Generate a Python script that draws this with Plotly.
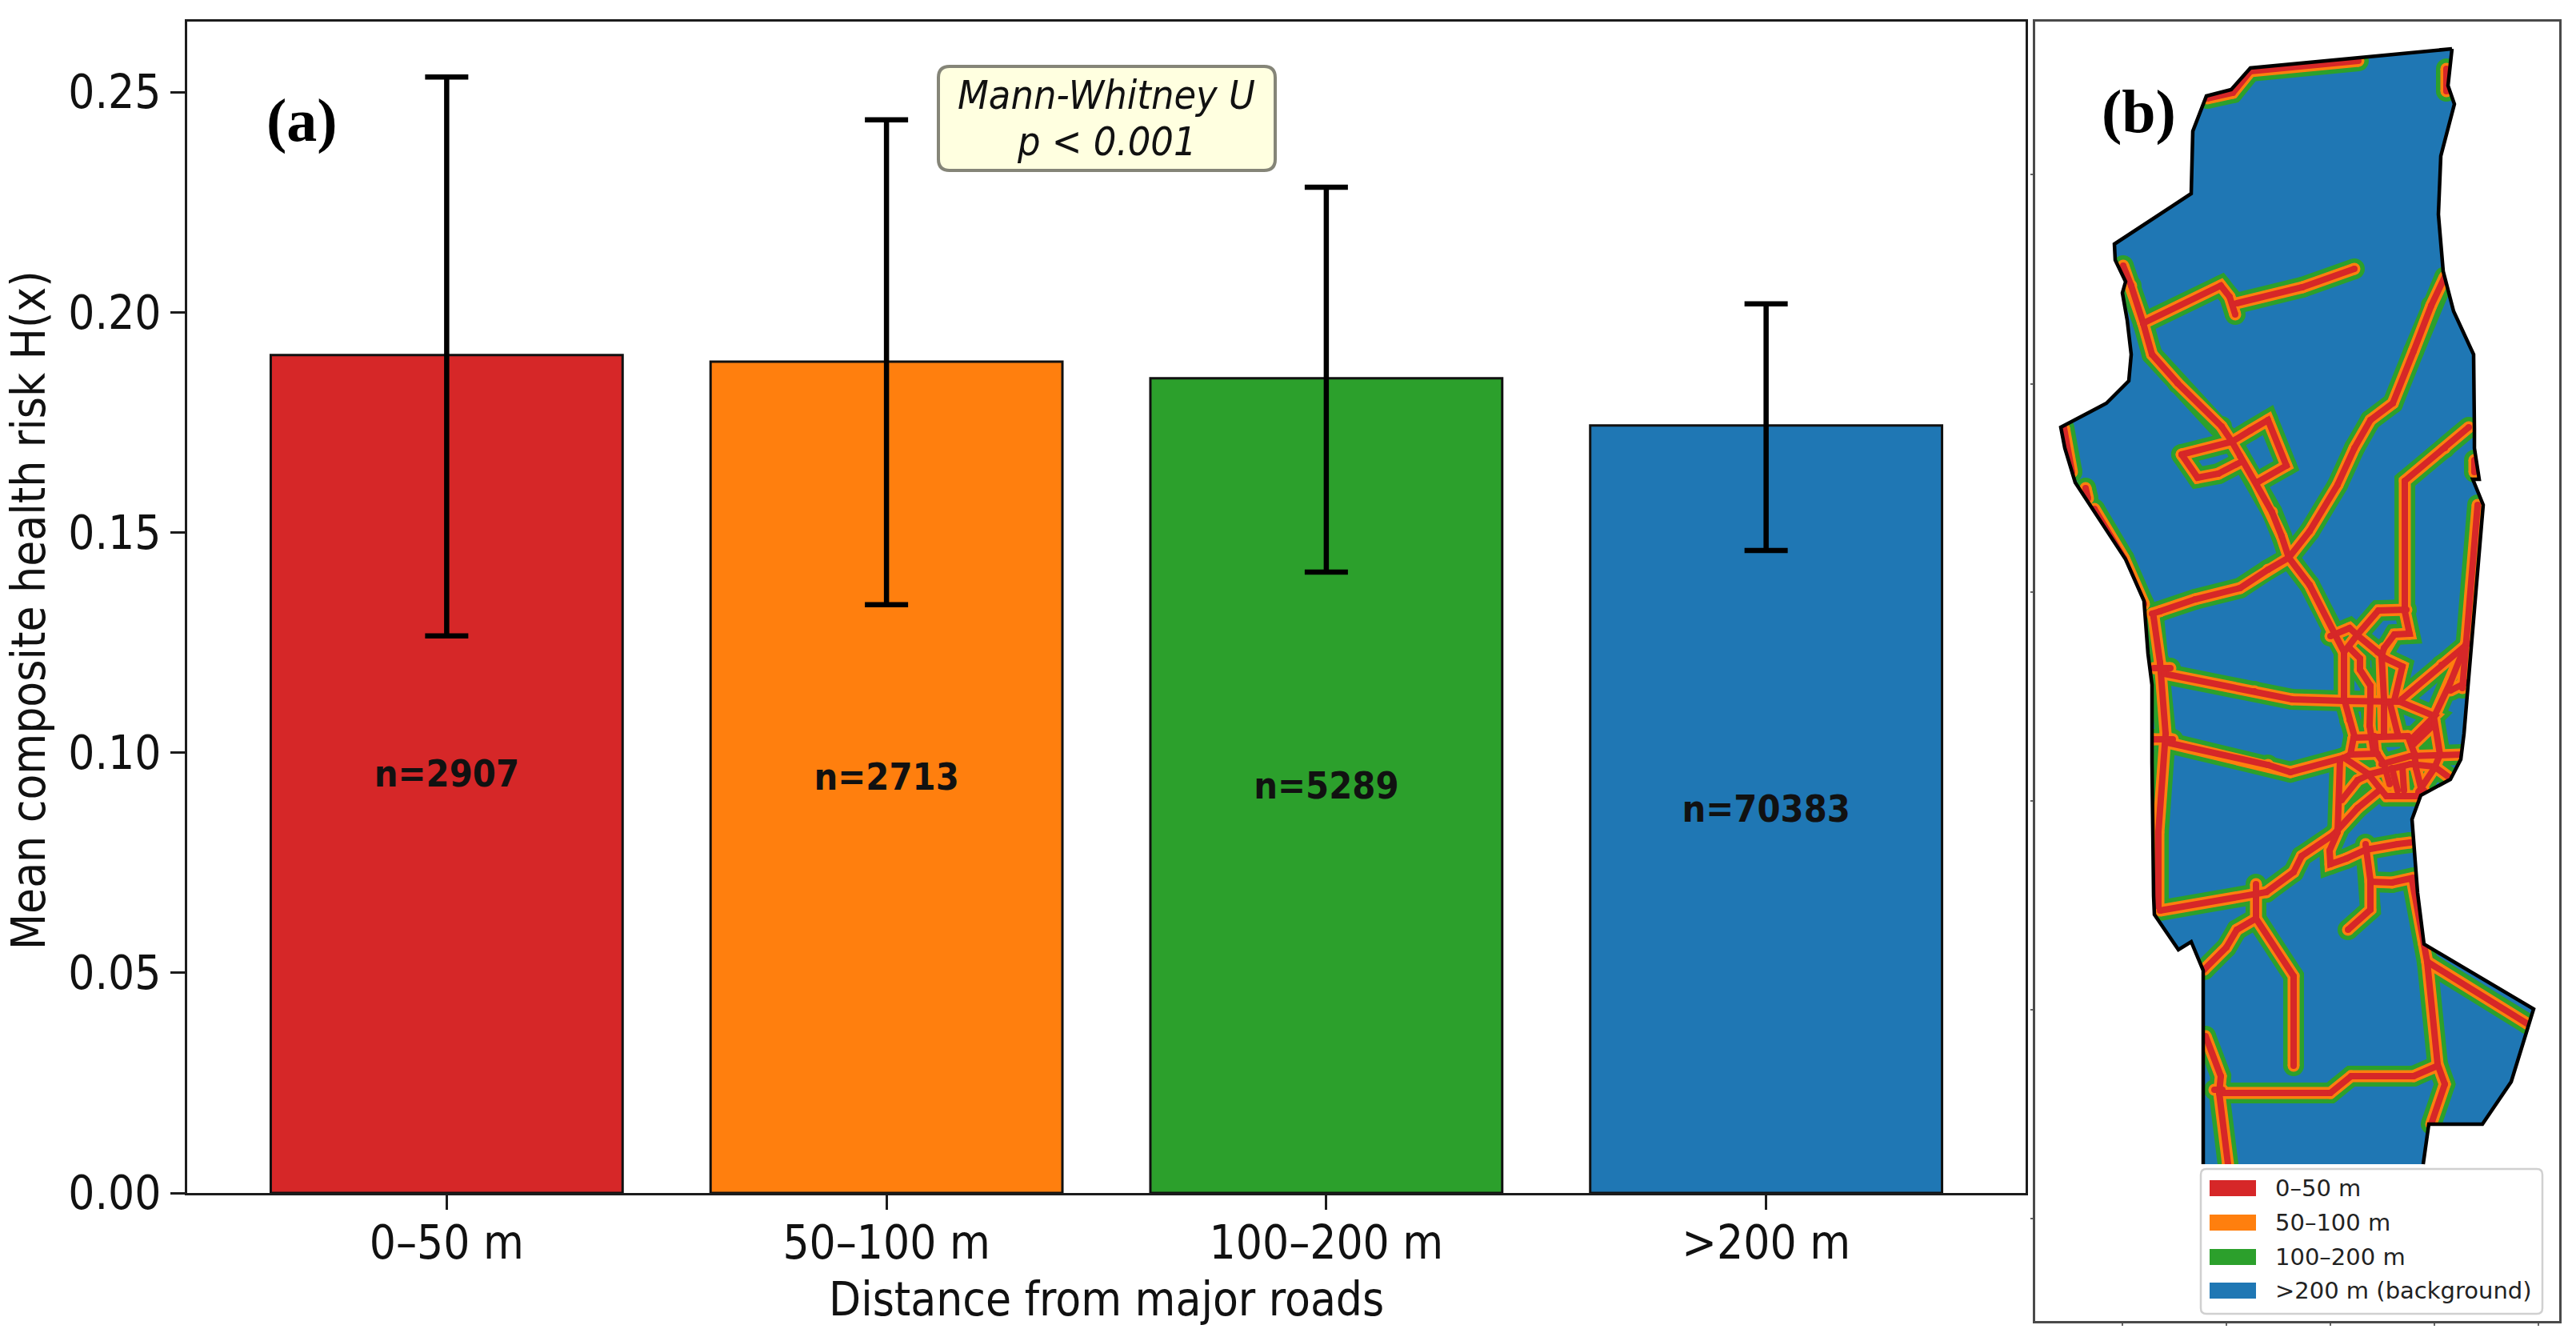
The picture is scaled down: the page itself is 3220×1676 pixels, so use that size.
import plotly.graph_objects as go

W, H = 3220, 1676

# ---------- panel (a) data ----------
categories = ["0–50 m", "50–100 m", "100–200 m", ">200 m"]
means = [0.1903, 0.1888, 0.1850, 0.1743]
err_upper = [0.2534, 0.2437, 0.2284, 0.2019]
err_lower = [0.1265, 0.1336, 0.1410, 0.1459]
counts = [2907, 2713, 5289, 70383]
bar_colors = ["#d62728", "#ff7f0e", "#2ca02c", "#1f77b4"]
y_ticks = [0.00, 0.05, 0.10, 0.15, 0.20, 0.25]

# ---------- panel (b) data (map units) ----------
boundary = [
    (3065, 61), (2813, 85), (2789, 112), (2758, 120), (2741, 164), (2739, 242), (2643, 305),
    (2644, 325), (2657, 352), (2653, 366), (2659, 400), (2664, 443), (2661, 476), (2633, 504),
    (2576, 534), (2581, 560), (2594, 603), (2616, 637), (2657, 699), (2680, 751), (2685, 817),
    (2690, 856), (2690, 953), (2692, 1120), (2693, 1143), (2723, 1187), (2739, 1177),
    (2754, 1213), (2754, 1455),
]
boundary_east = [
    (3029, 1455), (3036, 1405), (3103, 1405), (3139, 1352), (3167, 1261), (3030, 1180),
    (3022, 1116), (3015, 1024), (3026, 994), (3063, 974), (3076, 949), (3080, 917),
    (3104, 631), (3091, 599), (3099, 599), (3093, 560), (3093, 536), (3093, 461), (3092, 443),
    (3067, 389), (3054, 339), (3048, 268), (3051, 195), (3068, 130), (3060, 107), (3065, 61),
]
roads = [
    [(2759, 123), (2791, 116), (2813, 89), (2948, 76)],
    [(3058, 86), (3058, 114)],
    [(2654, 332), (2664, 357), (2679, 404), (2690, 443), (2722, 479), (2777, 533), (2790, 552),
     (2800, 570), (2820, 603), (2840, 640), (2852, 670), (2861, 697), (2887, 731), (2917, 792),
     (2930, 815), (2930, 873), (2937, 900), (2943, 920)],
    [(2679, 404), (2776, 357), (2787, 371), (2794, 393)],
    [(2796, 379), (2878, 359), (2943, 336)],
    [(3056, 346), (3039, 382), (3017, 439), (2991, 504), (2963, 525), (2943, 560), (2922, 606),
     (2887, 664), (2861, 697), (2835, 712), (2800, 735), (2744, 749), (2700, 764), (2690, 767)],
    [(2727, 568), (2790, 552), (2813, 538), (2835, 525), (2858, 582), (2823, 602)],
    [(2727, 568), (2747, 597), (2773, 592), (2802, 577)],
    [(2607, 610), (2610, 623)],
    [(2618, 636), (2655, 698), (2680, 755)],
    [(2580, 535), (2590, 590)],
    [(2692, 771), (2700, 828), (2707, 917), (2698, 1040), (2698, 1133)],
    [(2692, 835), (2713, 835)],
    [(2692, 924), (2716, 924)],
    [(2700, 1138), (2820, 1118), (2833, 1115), (2867, 1090), (2877, 1070), (2917, 1043),
     (2922, 1037), (2947, 1010), (2975, 987)],
    [(2925, 950), (2922, 1040), (2912, 1063), (2913, 1080), (2933, 1073), (2957, 1062),
     (2997, 1055), (3013, 1053)],
    [(2957, 1055), (2963, 1100), (2963, 1137), (2935, 1162)],
    [(2963, 1102), (2990, 1103), (3017, 1097)],
    [(2820, 1105), (2820, 1148), (2796, 1162), (2783, 1184), (2755, 1212)],
    [(2820, 1148), (2867, 1220), (2867, 1332)],
    [(3015, 1100), (3030, 1180), (3034, 1202), (3047, 1330), (3056, 1355), (3039, 1405)],
    [(3034, 1202), (3160, 1280)],
    [(2774, 1366), (2913, 1366), (2939, 1345), (3017, 1345), (3047, 1332)],
    [(2757, 1295), (2776, 1345), (2774, 1366), (2785, 1455)],
    [(2768, 1362), (2778, 1362)],
    [(3086, 534), (3056, 560), (3006, 601), (3006, 764), (3012, 792), (2993, 793), (2980, 810),
     (2977, 820)],
    [(3008, 762), (2973, 763), (2947, 793), (2930, 815)],
    [(2913, 795), (2937, 785), (2948, 795), (2972, 815), (2977, 820), (2982, 823), (3003, 833),
     (2993, 875)],
    [(2937, 810), (2950, 823), (2950, 837), (2963, 857), (2963, 873), (2962, 907), (2967, 940)],
    [(2977, 820), (2980, 873), (2980, 920)],
    [(2705, 842), (2818, 864), (2865, 874), (2930, 876), (3000, 877)],
    [(2987, 877), (2997, 917)],
    [(3002, 874), (3052, 831), (3084, 805)],
    [(3043, 895), (3063, 853), (3083, 803)],
    [(3063, 863), (3083, 853)],
    [(3000, 877), (3043, 895), (3013, 925)],
    [(3043, 900), (3050, 943), (3043, 960), (3023, 990)],
    [(3097, 631), (3084, 803), (3078, 860)],
    [(3093, 575), (3093, 590)],
    [(2942, 922), (3010, 920)],
    [(2942, 922), (2938, 943), (2930, 947)],
    [(2709, 928), (2835, 956), (2863, 965), (2930, 947)],
    [(2968, 920), (2970, 940), (2980, 955), (2987, 980)],
    [(2938, 943), (2972, 942)],
    [(2930, 947), (2960, 967), (2977, 988), (2983, 995), (3020, 995), (3030, 988)],
    [(2977, 955), (3013, 945), (3077, 943)],
    [(2960, 968), (2980, 963), (3013, 955), (3043, 958), (3062, 972)],
    [(3010, 920), (3018, 942), (3020, 960), (3027, 988)],
    [(2990, 960), (2997, 988)],
    [(3003, 958), (3005, 988)],
    [(3017, 930), (3043, 905)],
    [(2962, 968), (2947, 975), (2927, 1000)],
]
zone_names = ["0–50 m", "50–100 m", "100–200 m", ">200 m (background)"]
map_xticks = [2653, 2783, 2913, 3043, 3173]
map_yticks = [218, 480, 740, 1001, 1262, 1523]

# ---------- styles ----------
FONT = "DejaVu Sans Condensed, DejaVu Sans, sans-serif"
INK = "#111111"
AXIS = "#1c1c1c"
X0, X1, Y0, Y1 = 234, 2532, 27, 1491        # panel a pixel box
MX0, MX1, MY0, MY1 = 2544, 3199, 27, 1651   # panel b pixel box


def px(x):
    return x / W


def py(y):
    return 1 - y / H


def rounded(x0, y0, x1, y1, r):
    a, b, c, d = px(x0), px(x1), py(y0), py(y1)
    rx, ry = r / W, r / H
    return (f"M{a+rx},{c} L{b-rx},{c} Q{b},{c} {b},{c-ry} L{b},{d+ry} Q{b},{d} {b-rx},{d} "
            f"L{a+rx},{d} Q{a},{d} {a},{d+ry} L{a},{c-ry} Q{a},{c} {a+rx},{c} Z")


fig = go.Figure()

fig.add_trace(go.Bar(
    x=categories, y=means, marker=dict(color=bar_colors, line=dict(color="#111111", width=3)),
    width=0.8, showlegend=False,
    error_y=dict(type="data", symmetric=False,
                 array=[u - m for u, m in zip(err_upper, means)],
                 arrayminus=[m - l for m, l in zip(means, err_lower)],
                 color="black", thickness=6.5, width=27),
    text=[f"<b>n={c}</b>" for c in counts], textposition="inside", insidetextanchor="middle",
    textangle=0, constraintext="none", textfont=dict(family=FONT, size=46.5, color=INK),
    xaxis="x", yaxis="y",
))

# map: background, road buffers, outside mask, outline
outline = boundary + boundary_east
fig.add_trace(go.Scatter(
    x=[p[0] for p in outline], y=[p[1] for p in outline], mode="lines", fill="toself",
    fillcolor=bar_colors[3], line=dict(width=0), showlegend=False, xaxis="x2", yaxis="y2",
    hoverinfo="skip"))

road_x, road_y = [], []
for r in roads:
    road_x += [p[0] for p in r] + [None]
    road_y += [p[1] for p in r] + [None]
for color, width in ((bar_colors[2], 26), (bar_colors[1], 15), (bar_colors[0], 8)):
    fig.add_trace(go.Scatter(
        x=road_x, y=road_y, mode="lines+markers", line=dict(color=color, width=width),
        marker=dict(color=color, size=width, line=dict(width=0)),
        showlegend=False, xaxis="x2", yaxis="y2", hoverinfo="skip", connectgaps=False))

mask = [(MX0, MY0), (MX1, MY0), (MX1, MY1), (MX0, MY1), (MX0, MY0)] + outline + [outline[0], (MX0, MY0)]
fig.add_trace(go.Scatter(
    x=[p[0] for p in mask], y=[p[1] for p in mask], mode="lines", fill="toself",
    fillcolor="white", line=dict(width=0), showlegend=False, xaxis="x2", yaxis="y2",
    hoverinfo="skip"))
for part in (boundary, boundary_east):
    fig.add_trace(go.Scatter(
        x=[p[0] for p in part], y=[p[1] for p in part], mode="lines",
        line=dict(color="black", width=4.5), showlegend=False, xaxis="x2", yaxis="y2",
        hoverinfo="skip"))

shapes = [
    dict(type="path", xref="paper", yref="paper", path=rounded(1173, 83, 1594, 213, 14),
         fillcolor="#ffffe0", line=dict(color="#858578", width=4), layer="above"),
    dict(type="path", xref="paper", yref="paper", path=rounded(2751, 1461, 3178, 1642, 7),
         fillcolor="white", line=dict(color="#d0d0d0", width=2.5), layer="above"),
]
legend_rows = [1485, 1528, 1571, 1613]
annotations = [
    dict(x=px(1383), y=py(119), text="<i>Mann-Whitney U</i>", font=dict(family=FONT, size=50, color=INK)),
    dict(x=px(1383), y=py(177), text="<i>p &lt; 0.001</i>", font=dict(family=FONT, size=50, color=INK)),
    dict(x=px(377), y=py(150), text="<b>(a)</b>", font=dict(family="Liberation Serif", size=76, color="black")),
    dict(x=px(2673), y=py(140), text="<b>(b)</b>", font=dict(family="Liberation Serif", size=76, color="black")),
    dict(x=px(1383), y=py(1624), text="Distance from major roads", font=dict(family=FONT, size=58, color=INK)),
    dict(x=px(36), y=py(763), text="Mean composite health risk H(x)", textangle=-90, font=dict(family=FONT, size=58, color=INK)),
]
for name, color, yc in zip(zone_names, bar_colors, legend_rows):
    shapes.append(dict(type="rect", xref="paper", yref="paper", x0=px(2762), x1=px(2820),
                       y0=py(yc - 10), y1=py(yc + 10), fillcolor=color, line=dict(width=0),
                       layer="above"))
    annotations.append(dict(x=px(2842), y=py(yc), text=name, xanchor="left",
                            font=dict(family="DejaVu Sans", size=29, color="#222222")))
for a in annotations:
    a.update(xref="paper", yref="paper", showarrow=False, yanchor="middle")
    a.setdefault("xanchor", "center")

fig.update_layout(
    template="none",
    width=W, height=H, margin=dict(l=0, r=0, t=0, b=0, pad=0), autosize=False,
    paper_bgcolor="white", plot_bgcolor="white", showlegend=False, bargap=0.2,
    font=dict(family=FONT, color=INK),
    shapes=shapes, annotations=annotations,
    xaxis=dict(domain=[px(X0), px(X1)], range=[-0.59, 3.59], type="category", automargin=False,
               showgrid=False, zeroline=False, showline=True, mirror=True, linecolor=AXIS, linewidth=3,
               ticks="outside", ticklen=18, tickwidth=3, tickcolor=AXIS, ticklabelstandoff=-9,
               tickfont=dict(family=FONT, size=58, color=INK)),
    yaxis=dict(domain=[py(Y1), py(Y0)], range=[0, 0.266], automargin=False,
               tickvals=y_ticks, tickformat=".2f",
               showgrid=False, zeroline=False, showline=True, mirror=True, linecolor=AXIS, linewidth=3,
               ticks="outside", ticklen=18, tickwidth=3, tickcolor=AXIS,
               tickfont=dict(family=FONT, size=58, color=INK)),
    xaxis2=dict(domain=[px(MX0), px(MX1)], range=[MX0, MX1], showgrid=False, zeroline=False,
                automargin=False, showline=True, mirror=True, linecolor="#4a4a4a", linewidth=3,
                tickvals=map_xticks, ticktext=[""] * len(map_xticks), ticks="outside", ticklen=3,
                tickwidth=1.5, tickcolor="#666666", anchor="y2"),
    yaxis2=dict(domain=[py(MY1), py(MY0)], range=[MY1, MY0], showgrid=False, zeroline=False,
                automargin=False, showline=True, mirror=True, linecolor="#4a4a4a", linewidth=3,
                tickvals=map_yticks, ticktext=[""] * len(map_yticks), ticks="outside", ticklen=3,
                tickwidth=1.5, tickcolor="#666666", anchor="x2"),
)

fig.write_html("out.html", post_script="document.body.style.margin='0';",
               config={"displayModeBar": False})
